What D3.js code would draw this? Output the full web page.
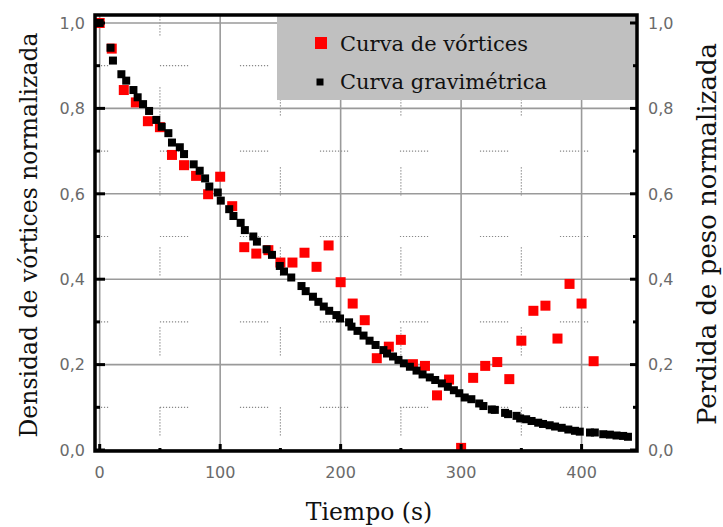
<!DOCTYPE html>
<html>
<head>
<meta charset="utf-8">
<script src="https://cdnjs.cloudflare.com/ajax/libs/d3/7.8.5/d3.min.js"></script>
<style>
  body { margin: 0; background: #fff; }
  .tick-label { font-family: "DejaVu Sans", sans-serif; font-size: 16px; fill: #6a6a6a; }
  .title { font-family: "DejaVu Serif", serif; font-size: 23.5px; fill: #111; }
  .legend-text { font-family: "DejaVu Serif", serif; font-size: 21px; fill: #111; }
</style>
</head>
<body>
<div id="chart"></div>
<script>
// vortex density (red), one reading every 10 s
const vortexTime = [0, 10, 20, 30, 40, 50, 60, 70, 80, 90, 100, 110, 120, 130, 140, 150, 160, 170, 180, 190,
  200, 210, 220, 230, 240, 250, 260, 270, 280, 290, 300, 310, 320, 330, 340, 350, 360, 370, 380, 390, 400, 410];
const vortexValue = [1.0, 0.94, 0.843, 0.814, 0.77, 0.756, 0.691, 0.667, 0.642, 0.599, 0.640, 0.571, 0.475, 0.46,
  0.468, 0.439, 0.439, 0.462, 0.429, 0.479, 0.393, 0.343, 0.304, 0.215, 0.242, 0.258, 0.201, 0.197, 0.128, 0.165,
  0.005, 0.169, 0.197, 0.206, 0.166, 0.256, 0.326, 0.338, 0.261, 0.389, 0.343, 0.208];

// gravimetric curve (black)
const gravTime = [0, 9, 11, 18, 22, 28, 31.5, 36, 41, 47, 51.5, 57, 60, 66.5, 70, 78, 83, 87.5, 91, 98,
  100.5, 107.5, 111, 117, 120.5, 127.5, 130.5, 138.5, 143, 149.5, 153, 159, 167.5, 171, 177, 181.5, 186, 190.5,
  196.5, 199.5, 207, 209, 214, 219, 224, 229, 235.5, 238.5, 243.5, 248, 252.5, 257.5, 263, 268, 274, 278.5, 284,
  289, 294, 298.5, 303, 308.5, 315, 318.5, 325.5, 328, 336.5, 339, 346, 349, 354, 358.5, 364, 368, 373.5, 378,
  383.5, 389, 394.5, 398.5, 407, 411, 418, 423.5, 429, 434.5, 438.5];
const gravValue = [1.0, 0.942, 0.912, 0.88, 0.865, 0.843, 0.826, 0.81, 0.794, 0.773, 0.757, 0.742, 0.72, 0.709,
  0.693, 0.669, 0.654, 0.636, 0.617, 0.603, 0.584, 0.564, 0.548, 0.532, 0.515, 0.5, 0.488, 0.47, 0.457, 0.431,
  0.418, 0.404, 0.384, 0.372, 0.359, 0.347, 0.336, 0.326, 0.316, 0.308, 0.299, 0.289, 0.279, 0.268, 0.256, 0.246,
  0.234, 0.226, 0.219, 0.211, 0.203, 0.195, 0.186, 0.177, 0.17, 0.164, 0.156, 0.148, 0.14, 0.133, 0.123, 0.119,
  0.109, 0.103, 0.095, 0.094, 0.087, 0.084, 0.08, 0.074, 0.072, 0.068, 0.064, 0.061, 0.058, 0.055, 0.052, 0.048,
  0.045, 0.043, 0.041, 0.041, 0.037, 0.036, 0.034, 0.033, 0.031];

const xMajor = [0, 100, 200, 300, 400];
const xMinor = [50, 150, 250, 350];
const xLabels = ["0", "100", "200", "300", "400"];
const yMajor = [0, 0.2, 0.4, 0.6, 0.8, 1.0];
const yMinor = [0.1, 0.3, 0.5, 0.7, 0.9];
const yLabels = ["0,0", "0,2", "0,4", "0,6", "0,8", "1,0"];

const legendLabels = ["Curva de vórtices", "Curva gravimétrica"];

let width = 723, height = 527;
let plotLeft = 95, plotRight = 637, plotTop = 15, plotBottom = 451;

var svg = d3.select("#chart")
  .append("svg")
  .attr("width", width)
  .attr("height", height);

svg.append("rect").attr("width", width).attr("height", height).attr("fill", "#fff");

var x = d3.scaleLinear().domain([-3.9, 446]).range([plotLeft, plotRight]);
var y = d3.scaleLinear().domain([-0.0023, 1.0187]).range([plotBottom, plotTop]);

svg.append("clipPath").attr("id", "plot-clip")
  .append("rect")
  .attr("x", plotLeft).attr("y", plotTop)
  .attr("width", plotRight - plotLeft).attr("height", plotBottom - plotTop);

let grid = svg.append("g").attr("clip-path", "url(#plot-clip)");

// dotted minor grid: 30px runs of dots, repeating every 80px
let dots = d3.range(10).map((d, i) => i < 9 ? "1.2,1.8" : "1.2,51.8").join(",");
let startX = x(xMinor[0]), startY = y(yMinor[0]);

grid.selectAll(".minor-h")
  .data(yMinor)
  .enter().append("line")
  .attr("x1", plotLeft).attr("x2", plotRight)
  .attr("y1", d => y(d)).attr("y2", d => y(d))
  .style("stroke", "#888")
  .style("stroke-width", 1.2)
  .style("stroke-dasharray", dots)
  .style("stroke-dashoffset", (80 - (startX - plotLeft) % 80) % 80);

grid.selectAll(".minor-v")
  .data(xMinor)
  .enter().append("line")
  .attr("x1", d => x(d)).attr("x2", d => x(d))
  .attr("y1", plotTop).attr("y2", plotBottom)
  .style("stroke", "#888")
  .style("stroke-width", 1.2)
  .style("stroke-dasharray", dots)
  .style("stroke-dashoffset", (80 - (startY - plotTop) % 80) % 80);

// major grid
grid.selectAll(".major-v")
  .data(xMajor)
  .enter().append("line")
  .attr("x1", d => x(d)).attr("x2", d => x(d))
  .attr("y1", plotTop).attr("y2", plotBottom)
  .style("stroke", "#9a9a9a")
  .style("stroke-width", 1.6);

grid.selectAll(".major-h")
  .data(yMajor)
  .enter().append("line")
  .attr("x1", plotLeft).attr("x2", plotRight)
  .attr("y1", d => y(d)).attr("y2", d => y(d))
  .style("stroke", "#9a9a9a")
  .style("stroke-width", 1.6);

// data marks, black drawn over red
let marks = svg.append("g").attr("clip-path", "url(#plot-clip)");
let redSize = 10, blackSize = 8;

marks.selectAll(".vortex")
  .data(vortexTime)
  .enter().append("rect")
  .attr("x", (d, i) => x(d) - redSize / 2)
  .attr("y", (d, i) => y(vortexValue[i]) - redSize / 2)
  .attr("width", redSize).attr("height", redSize)
  .style("fill", "#ff0000");

marks.selectAll(".grav")
  .data(gravTime)
  .enter().append("rect")
  .attr("x", (d, i) => x(d) - blackSize / 2)
  .attr("y", (d, i) => y(gravValue[i]) - blackSize / 2)
  .attr("width", blackSize).attr("height", blackSize)
  .style("fill", "#000");

// legend box
let legend = svg.append("g");
legend.append("rect")
  .attr("x", 277).attr("y", plotTop)
  .attr("width", plotRight - 277).attr("height", 100 - plotTop)
  .style("fill", "#c0c0c0");

legend.append("rect")
  .attr("x", 315).attr("y", 37).attr("width", 12).attr("height", 12)
  .style("fill", "#ff0000");
legend.append("rect")
  .attr("x", 316.5).attr("y", 78.5).attr("width", 7).attr("height", 7)
  .style("fill", "#000");

legend.selectAll(".legend-text")
  .data(legendLabels)
  .enter().append("text")
  .attr("class", "legend-text")
  .attr("x", 340)
  .attr("y", (d, i) => 51 + i * 38)
  .text(d => d);

// frame
svg.append("rect")
  .attr("x", plotLeft).attr("y", plotTop)
  .attr("width", plotRight - plotLeft).attr("height", plotBottom - plotTop)
  .style("fill", "none")
  .style("stroke", "#000")
  .style("stroke-width", 3.5);

// ticks, pointing inward
let ticks = svg.append("g").style("stroke", "#000").style("stroke-width", 3);
ticks.selectAll(".yl").data(yMajor.concat(yMinor)).enter().append("line")
  .attr("x1", plotLeft).attr("x2", d => plotLeft + (yMajor.includes(d) ? 10 : 5))
  .attr("y1", d => y(d)).attr("y2", d => y(d));
ticks.selectAll(".yr").data(yMajor.concat(yMinor)).enter().append("line")
  .attr("x1", plotRight).attr("x2", d => plotRight - (yMajor.includes(d) ? 7 : 4))
  .attr("y1", d => y(d)).attr("y2", d => y(d));
ticks.selectAll(".xb").data(xMajor.concat(xMinor)).enter().append("line")
  .attr("x1", d => x(d)).attr("x2", d => x(d))
  .attr("y1", plotBottom).attr("y2", d => plotBottom - (xMajor.includes(d) ? 7 : 3));

// tick labels
svg.selectAll(".ylab-left")
  .data(yMajor)
  .enter().append("text")
  .attr("class", "tick-label")
  .attr("x", 85)
  .attr("y", d => y(d))
  .attr("dy", "0.36em")
  .attr("text-anchor", "end")
  .text((d, i) => yLabels[i]);

svg.selectAll(".ylab-right")
  .data(yMajor)
  .enter().append("text")
  .attr("class", "tick-label")
  .attr("x", 648)
  .attr("y", d => y(d))
  .attr("dy", "0.36em")
  .text((d, i) => yLabels[i]);

svg.selectAll(".xlab")
  .data(xMajor)
  .enter().append("text")
  .attr("class", "tick-label")
  .attr("x", d => x(d))
  .attr("y", 478)
  .attr("text-anchor", "middle")
  .text((d, i) => xLabels[i]);

// axis titles
svg.append("text")
  .attr("class", "title")
  .attr("x", 369).attr("y", 520)
  .attr("text-anchor", "middle")
  .text("Tiempo (s)");

svg.append("text")
  .attr("class", "title")
  .attr("transform", "translate(37," + 235 + ") rotate(-90)")
  .attr("text-anchor", "middle")
  .text("Densidad de vórtices normalizada");

svg.append("text")
  .attr("class", "title")
  .attr("transform", "translate(716," + 234 + ") rotate(-90)")
  .attr("text-anchor", "middle")
  .style("font-size", "26px")
  .text("Perdida de peso normalizada");
</script>
</body>
</html>
